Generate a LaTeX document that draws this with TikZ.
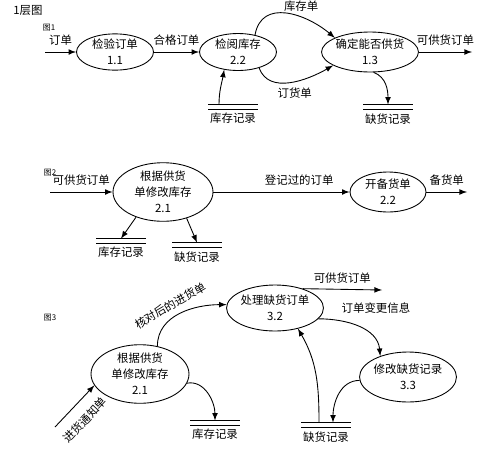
\documentclass[tikz,border=0pt]{standalone}
\usepackage{fontspec}
\setmainfont{Noto Sans CJK SC}
\usetikzlibrary{shapes,arrows,positioning}
\tikzstyle{Proc} = [draw, ellipse, inner sep=0pt, align=center]
\tikzstyle{Store} = [minimum width=0.98cm, minimum height=0.08cm, inner sep=0pt,
  append after command={(\tikzlastnode.north west) edge (\tikzlastnode.north east)
    (\tikzlastnode.south west) edge (\tikzlastnode.south east)}]
\tikzstyle{Text} = [inner sep=1pt]
\tikzstyle{Fig} = [font=\fontsize{4.5}{5}\selectfont]

\begin{document}
\begin{tikzpicture}[x=0.02cm, y=0.02cm, >=latex, line width=0.5pt,
    font=\fontsize{6.5}{9}\selectfont]
  \useasboundingbox (0,0) rectangle (500,458);
  % 1层图
  \node (title) at (28,448) {1层图};
  \node[Fig] (fig1) at (49,430) {图1};
  \coordinate (in1) at (45,406);
  \node[Proc, minimum width=1.54cm, minimum height=0.72cm] (p11) at (115,406) {检验订单\\1.1};
  \node[Proc, minimum width=1.54cm, minimum height=0.74cm] (p22) at (238,406) {检阅库存\\2.2};
  \node[Proc, minimum width=1.88cm, minimum height=0.8cm] (p13) at (370,406) {确定能否供货\\1.3};
  \coordinate (out1) at (472,406);
  \node[Store] (s1) at (233,351) {};
  \node[Text] (s1t) [below=1pt of s1] {库存记录};
  \node[Store] (s2) at (388,351) {};
  \node[Text] (s2t) [below=1pt of s2] {缺货记录};
  \draw[->] (in1) -- node[above] {订单} (p11);
  \draw[->] (p11) -- node[above] {合格订单} (p22);
  \draw[->] (p22.45) to [out=80,in=140,looseness=1.2] node[above,pos=0.65] {库存单} (p13.158);
  \draw[->] (p22.-37) to [out=-70,in=-150] node[below,pos=0.55] {订货单} (p13.200);
  \draw[->] (p13) -- node[above] {可供货订单} (out1);
  \draw[->] ([xshift=-0.28cm]s1.north) to [out=90,in=-100] (p22.232);
  \draw[->] (p13.-80) to [out=-20,in=90] (s2.north);

  % 图2
  \node[Fig] (fig2) at (50,285) {图2};
  \coordinate (in2) at (50,266);
  \node[Proc, minimum width=2cm, minimum height=1cm] (q21) at (163,266) {根据供货\\单修改库存\\2.1};
  \node[Proc, minimum width=1.52cm, minimum height=0.8cm] (q22) at (388,266) {开备货单\\2.2};
  \coordinate (out2) at (467,266);
  \node[Store] (s3) at (121,217) {};
  \node[Text] (s3t) [below=1pt of s3] {库存记录};
  \node[Store] (s4) at (197,213) {};
  \node[Text] (s4t) [below=1pt of s4] {缺货记录};
  \draw[->] (in2) -- node[above] {可供货订单} (q21);
  \draw[->] (q21) -- node[above,pos=0.63] {登记过的订单} (q22);
  \draw[->] (q22) -- node[above] {备货单} (out2);
  \draw[->] (q21.223) -- (s3.north);
  \draw[->] (q21.-48) -- (s4.north);

  % 图3
  \node[Fig] (fig3) at (50,140) {图3};
  \node[Proc, minimum width=1.96cm, minimum height=1cm] (r21) at (140,84) {根据供货\\单修改库存\\2.1};
  \node[Proc, minimum width=1.7cm, minimum height=0.92cm] (r32) at (275,150) {处理缺货订单\\3.2};
  \node[Proc, minimum width=1.7cm, minimum height=1cm] (r33) at (408,81) {修改缺货记录\\3.3};
  \coordinate (in3) at (55,31);
  \coordinate (out3) at (382,168);
  \node[Store] (s5) at (215,35) {};
  \node[Text] (s5t) [below=1pt of s5] {库存记录};
  \node[Store] (s6) at (326,33) {};
  \node[Text] (s6t) [below=1pt of s6] {缺货记录};
  \draw[->] (in3) -- node[below=3pt,sloped,pos=0.45] {进货通知单} (r21.194);
  \draw[->] (r21.58) to [out=90,in=180] node[above,sloped,pos=0.45] {核对后的进货单} (r32.176);
  \draw[->] (r21.-11) to [out=10,in=90] (s5.north);
  \draw[->] (r32.35) -- node[above] {可供货订单} (out3);
  \draw[->] (r32.-14) to [out=0,in=95] node[above right,pos=0.2] {订单变更信息} (r33.143);
  \draw[->] (r33.184) to [out=180,in=90] ([xshift=0.14cm]s6.north);
  \draw[->] ([xshift=-0.14cm]s6.north) to [out=90,in=-60] (r32.-42);
\end{tikzpicture}
\end{document}
